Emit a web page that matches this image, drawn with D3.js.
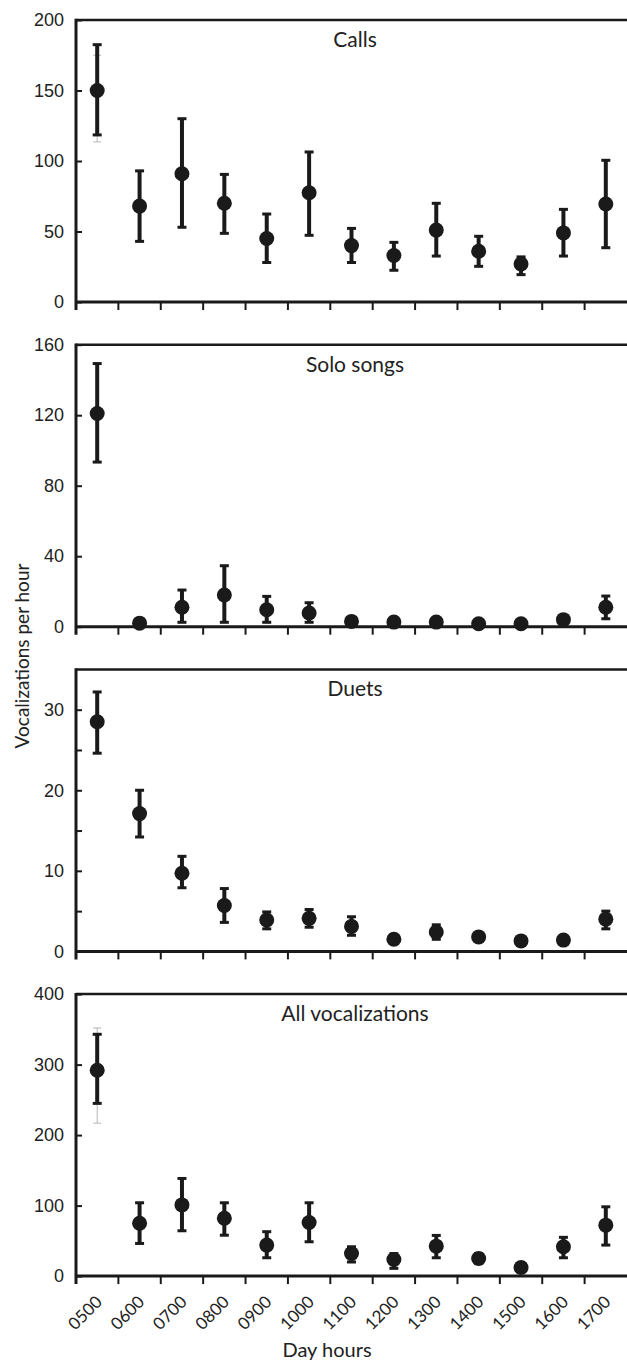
<!DOCTYPE html>
<html lang="en">
<head>
  <meta charset="UTF-8">
  <title>Vocalizations per hour</title>
  <style>
    body { margin: 0; background: #fff; }
    svg { display: block; font-family: Lato, "Open Sans", sans-serif; }
    .tick text { font-size: 18px; fill: #222; }
    .title { font-size: 21px; fill: #222; text-anchor: middle; }
  </style>
</head>
<body>
<svg width="627" height="1366"></svg>

<script src="https://cdn.jsdelivr.net/npm/d3@7"></script>
<script>
  const hours = ["0500", "0600", "0700", "0800", "0900", "1000", "1100",
    "1200", "1300", "1400", "1500", "1600", "1700"];

  const callsMean = [150, 68, 91, 70, 45, 77.5, 40, 33, 51, 36, 27, 49, 69.5];
  const callsLow = [118.5, 43, 53, 48.7, 28, 47.3, 28, 22.5, 32.6, 25.3, 19.4, 32.6, 38.5];
  const callsHigh = [182.5, 93, 130, 90.5, 62.4, 106.4, 52.2, 42.3, 70, 46.6, 32, 65.7, 100.5];
  const callsAltLow = [113.5, null, null, null, null, null, null, null, null, null, null, null, null];
  const callsAltHigh = [175, null, null, null, null, null, null, null, null, null, null, null, null];

  const soloMean = [121, 2, 11, 18, 9.6, 7.8, 3, 2.6, 2.6, 1.7, 1.7, 4, 11];
  const soloLow = [93.4, 1, 2.5, 2.5, 2.5, 2.5, 1.5, 1.2, 1.2, 0.8, 0.8, 2, 4.5];
  const soloHigh = [149.3, 3, 20.8, 34.6, 17.2, 13.6, 4.5, 4, 4, 2.6, 2.6, 6, 17.4];

  const duetMean = [28.5, 17.1, 9.7, 5.7, 3.9, 4.1, 3.1, 1.5, 2.4, 1.8, 1.3, 1.4, 4.0];
  const duetLow = [24.6, 14.2, 7.9, 3.6, 2.8, 3.0, 2.0, 1.0, 1.5, 1.3, 0.9, 1.0, 2.8];
  const duetHigh = [32.2, 20, 11.8, 7.8, 4.9, 5.2, 4.3, 2.0, 3.3, 2.3, 1.7, 1.8, 5.0];

  const allMean = [292, 75, 101, 82, 44, 76, 32, 23.6, 42.5, 25, 12.3, 41.6, 72.3];
  const allLow = [245, 46.3, 64.3, 58, 26, 48.7, 20, 11, 26, 18, 6, 26, 44];
  const allHigh = [343, 104, 138.5, 104, 63, 104, 41.6, 32, 57.7, 32, 18, 55, 98.3];
  const allAltLow = [217, null, null, null, null, null, null, null, null, null, null, null, null];
  const allAltHigh = [352, null, null, null, null, null, null, null, null, null, null, null, null];

  const panelTitles = ["Calls", "Solo songs", "Duets", "All vocalizations"];
  const yMax = [200, 160, 35, 400];
  const yTicks = [
    [0, 50, 100, 150, 200],
    [0, 40, 80, 120, 160],
    [0, 5, 10, 15, 20, 25, 30],
    [0, 100, 200, 300, 400]
  ];
  const yLabelStep = [50, 40, 10, 100];

  const panels = [
    {mean: callsMean, low: callsLow, high: callsHigh, altLow: callsAltLow, altHigh: callsAltHigh},
    {mean: soloMean, low: soloLow, high: soloHigh},
    {mean: duetMean, low: duetLow, high: duetHigh},
    {mean: allMean, low: allLow, high: allHigh, altLow: allAltLow, altHigh: allAltHigh}
  ];

  const svg = d3.select("svg");
  const left = 76, right = 627, panelH = 282, panelStep = 324.7, firstTop = 20;
  const ink = "#1a1a1a";

  const x = d3.scaleBand().domain(hours).range([left, right]).padding(0);
  const cx = j => x(hours[j]) + x.bandwidth() / 2;

  panels.forEach(function (p, i) {
    const top = firstTop + i * panelStep;
    const bottom = top + panelH;
    const y = d3.scaleLinear().domain([0, yMax[i]]).range([bottom, top]);
    const g = svg.append("g");

    // frame: top border, left axis, bottom axis
    g.append("line").attr("x1", left).attr("x2", right).attr("y1", top).attr("y2", top)
      .attr("stroke", ink).attr("stroke-width", 2.5);
    g.append("line").attr("x1", left).attr("x2", left).attr("y1", top - 1.2).attr("y2", bottom + 8)
      .attr("stroke", ink).attr("stroke-width", 3);
    g.append("line").attr("x1", left).attr("x2", right).attr("y1", bottom).attr("y2", bottom)
      .attr("stroke", ink).attr("stroke-width", 3);

    // x ticks at band boundaries
    g.selectAll(".xt").data(hours.slice(1)).enter().append("line")
      .attr("x1", d => x(d)).attr("x2", d => x(d))
      .attr("y1", bottom).attr("y2", bottom + 8)
      .attr("stroke", ink).attr("stroke-width", 2);

    // y axis, ticks pointing inward
    const yAxis = d3.axisLeft(y)
      .tickValues(yTicks[i])
      .tickSizeInner(-6)
      .tickSizeOuter(0)
      .tickPadding(12)
      .tickFormat(d => d % yLabelStep[i] === 0 ? d : "");
    const ya = g.append("g").attr("transform", "translate(" + left + ",0)").call(yAxis);
    ya.select(".domain").remove();
    ya.selectAll(".tick line").attr("stroke", ink).attr("stroke-width", 2);

    g.append("text").attr("class", "title")
      .attr("x", 355).attr("y", top + 27)
      .text(panelTitles[i]);

    const idx = d3.range(hours.length);

    // faint secondary error bars
    if (p.altLow) {
      const alt = idx.filter(j => p.altLow[j] != null);
      g.selectAll(".alt").data(alt).enter().append("line")
        .attr("x1", cx).attr("x2", cx)
        .attr("y1", j => y(p.altLow[j])).attr("y2", j => y(p.altHigh[j]))
        .attr("stroke", "#b5b5b5").attr("stroke-width", 1);
      [p.altLow, p.altHigh].forEach(function (arr) {
        g.selectAll(null).data(alt).enter().append("line")
          .attr("x1", j => cx(j) - 4).attr("x2", j => cx(j) + 4)
          .attr("y1", j => y(arr[j])).attr("y2", j => y(arr[j]))
          .attr("stroke", "#b5b5b5").attr("stroke-width", 1);
      });
    }

    // error bars
    g.selectAll(".err").data(idx).enter().append("line")
      .attr("x1", cx).attr("x2", cx)
      .attr("y1", j => y(p.low[j])).attr("y2", j => y(p.high[j]))
      .attr("stroke", ink).attr("stroke-width", 4);
    [p.low, p.high].forEach(function (arr) {
      g.selectAll(null).data(idx).enter().append("line")
        .attr("x1", j => cx(j) - 4.5).attr("x2", j => cx(j) + 4.5)
        .attr("y1", j => y(arr[j])).attr("y2", j => y(arr[j]))
        .attr("stroke", ink).attr("stroke-width", 3);
    });

    // means
    g.selectAll("circle").data(idx).enter().append("circle")
      .attr("cx", cx)
      .attr("cy", j => y(p.mean[j]))
      .attr("r", 7.5)
      .attr("fill", ink);

    // hour labels under the last panel only
    if (i === panels.length - 1) {
      g.selectAll(".xl").data(hours).enter().append("text")
        .attr("transform", d => "translate(" + (x(d) + x.bandwidth() / 2 + 6) + "," + (bottom + 27) + ") rotate(-45)")
        .attr("text-anchor", "end")
        .style("font-size", "17px").style("fill", "#222")
        .text(d => d);
    }
  });

  svg.append("text")
    .attr("x", 327).attr("y", 1357)
    .attr("text-anchor", "middle")
    .style("font-size", "20px").style("fill", "#222")
    .text("Day hours");

  svg.append("text")
    .attr("transform", "translate(29,656) rotate(-90)")
    .attr("text-anchor", "middle")
    .style("font-size", "19px").style("fill", "#222")
    .text("Vocalizations per hour");
</script>
</body>
</html>
